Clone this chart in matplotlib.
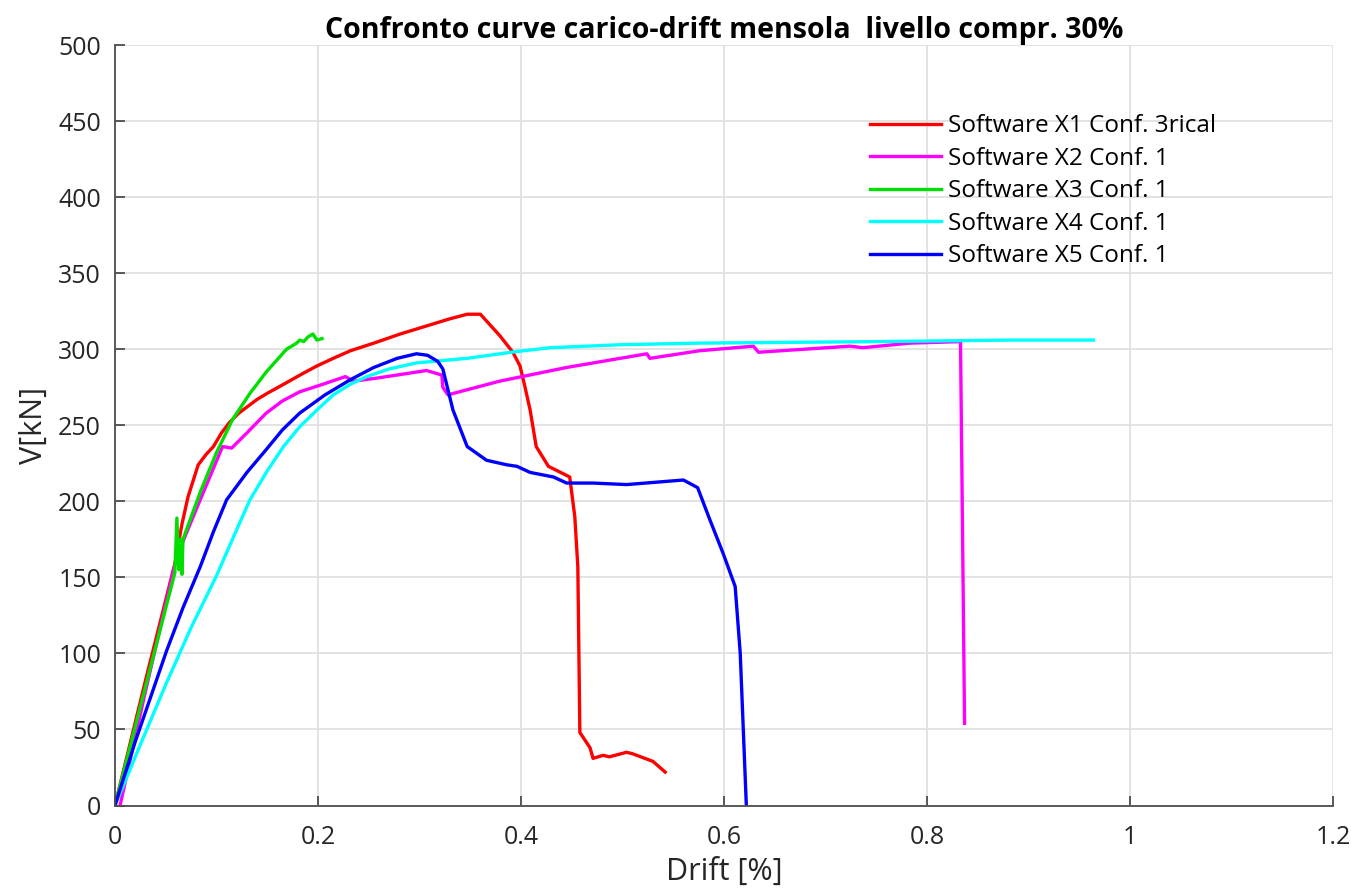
import numpy as np
import matplotlib.pyplot as plt

plt.rcParams['font.family'] = ['Open Sans', 'DejaVu Sans']

# Software X1 Conf. 3rical
x1_drift = [0, 0.030, 0.059, 0.066, 0.072, 0.082, 0.090, 0.097, 0.105, 0.113, 0.122,
            0.130, 0.140, 0.150, 0.169, 0.185, 0.199, 0.215, 0.232, 0.255, 0.281,
            0.330, 0.347, 0.360, 0.379, 0.392, 0.399, 0.404, 0.409, 0.415, 0.427,
            0.448, 0.453, 0.456, 0.458, 0.468, 0.471, 0.481, 0.487, 0.504, 0.510,
            0.530, 0.542]
x1_v = [0, 82, 159, 185, 203, 224, 231, 236, 245, 252, 258,
        262, 267, 271, 278, 284, 289, 294, 299, 304, 310,
        320, 323, 323, 309, 298, 289, 275, 260, 236, 223,
        216, 190, 157, 48, 38, 31, 33, 32, 35, 34,
        29, 22]

# Software X2 Conf. 1
x2_drift = [0.005, 0.030, 0.061, 0.084, 0.106, 0.115, 0.130, 0.149, 0.165, 0.182,
            0.205, 0.227, 0.235, 0.258, 0.307, 0.322, 0.323, 0.328, 0.379, 0.445,
            0.524, 0.527, 0.576, 0.629, 0.634, 0.724, 0.737, 0.783, 0.833, 0.837]
x2_v = [0, 75, 164, 201, 236, 235, 245, 258, 266, 272,
        277, 282, 279, 281, 286, 283, 275, 270, 279, 288,
        297, 294, 299, 302, 298, 302, 301, 304, 305, 54]

# Software X3 Conf. 1
x3_drift = [0, 0.030, 0.059, 0.061, 0.063, 0.065, 0.066, 0.067, 0.084, 0.100, 0.116,
            0.133, 0.149, 0.169, 0.179, 0.182, 0.186, 0.190, 0.195, 0.199, 0.204]
x3_v = [0, 78, 153, 189, 155, 175, 152, 175, 206, 232, 254,
        271, 285, 300, 304, 306, 305, 308, 310, 306, 307]

# Software X4 Conf. 1
x4_drift = [0, 0.025, 0.051, 0.075, 0.100, 0.117, 0.133, 0.150, 0.166, 0.182,
            0.199, 0.215, 0.232, 0.248, 0.270, 0.297, 0.347, 0.390, 0.429, 0.500,
            0.576, 0.750, 0.882, 0.964]
x4_v = [0, 40, 81, 117, 151, 177, 201, 220, 236, 249,
        260, 270, 277, 282, 287, 291, 294, 298, 301, 303,
        304, 305, 306, 306]

# Software X5 Conf. 1
x5_drift = [0, 0.020, 0.051, 0.067, 0.084, 0.097, 0.110, 0.130, 0.149, 0.165,
            0.182, 0.207, 0.232, 0.255, 0.278, 0.297, 0.308, 0.318, 0.323, 0.333,
            0.347, 0.366, 0.386, 0.396, 0.409, 0.432, 0.445, 0.471, 0.504, 0.560,
            0.574, 0.586, 0.599, 0.611, 0.616, 0.622]
x5_v = [0, 42, 102, 130, 157, 180, 201, 219, 234, 247,
        258, 270, 280, 288, 294, 297, 296, 292, 287, 260,
        236, 227, 224, 223, 219, 216, 212, 212, 211, 214,
        209, 188, 166, 144, 100, 0]

series = [
    (x1_drift, x1_v, '#ff0000', 'Software X1 Conf. 3rical'),
    (x2_drift, x2_v, '#ff00ff', 'Software X2 Conf. 1'),
    (x3_drift, x3_v, '#00e000', 'Software X3 Conf. 1'),
    (x4_drift, x4_v, '#00ffff', 'Software X4 Conf. 1'),
    (x5_drift, x5_v, '#0000ff', 'Software X5 Conf. 1'),
]

fig = plt.figure(figsize=(13.51, 8.88), dpi=100)
ax = fig.add_axes([0.0851, 0.0929, 0.9016, 0.8564])

for xs, ys, c, lab in series:
    ax.plot(xs, ys, color=c, lw=2.4, label=lab)

ax.set_xlim(0, 1.2)
ax.set_ylim(0, 500)
ax.set_xticks([0, 0.2, 0.4, 0.6, 0.8, 1.0, 1.2])
ax.set_xticklabels(['0', '0.2', '0.4', '0.6', '0.8', '1', '1.2'])
ax.set_yticks(np.arange(0, 501, 50))
ax.grid(True, color='#e0e0e0', lw=1.3)
ax.set_axisbelow(True)
for s in ['top', 'right']:
    ax.spines[s].set_visible(False)
for s in ['left', 'bottom']:
    ax.spines[s].set_color('#4d4d4d')
    ax.spines[s].set_linewidth(1.3)
ax.tick_params(direction='in', length=7, width=1.3, color='#4d4d4d',
               labelsize=18, labelcolor='#262626', pad=10)
ax.tick_params(axis='x', pad=14)

ax.set_xlabel('Drift [%]', fontsize=22, color='#262626', labelpad=5)
ax.set_ylabel('V[kN]', fontsize=22, color='#262626', labelpad=7)
ax.set_title('Confronto curve carico-drift mensola  livello compr. 30%',
             fontsize=20.5, fontweight='bold', pad=4)

ax.legend(loc='upper left', bbox_to_anchor=(0.62, 0.909), frameon=False,
          fontsize=17.5, handlelength=2.9, handletextpad=0.3, labelspacing=0.35,
          borderaxespad=0, borderpad=0)

fig.savefig('out.png', dpi=100)
